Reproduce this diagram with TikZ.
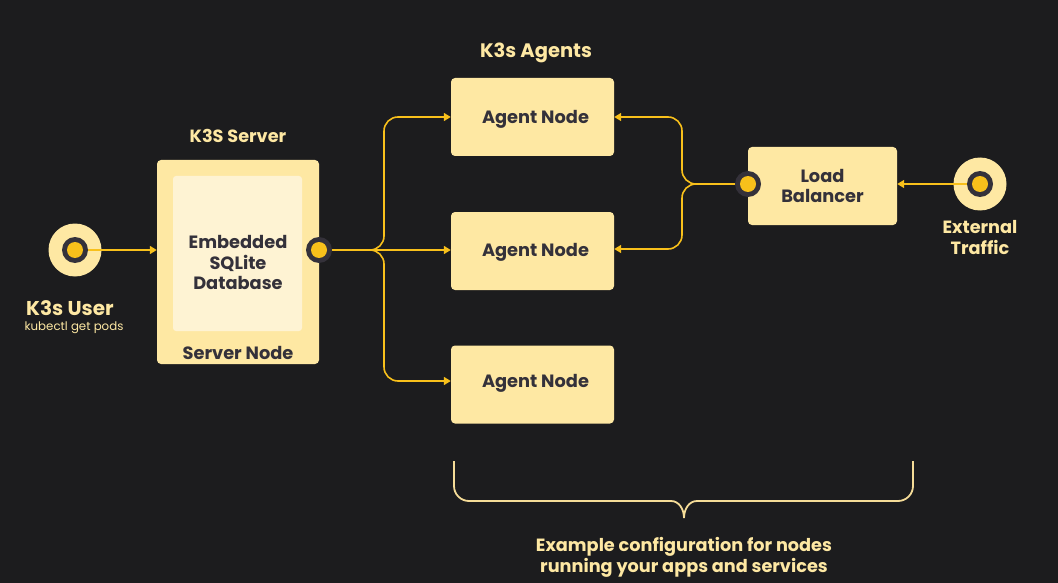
\documentclass[tikz,border=0pt]{standalone}
\usepackage{fontspec}
\setmainfont{Poppins}
\usetikzlibrary{arrows.meta,calc}
\definecolor{bg}{HTML}{1C1C1E}
\definecolor{ly}{HTML}{FEE8A3}
\definecolor{lyy}{HTML}{FEF3D3}
\definecolor{yl}{HTML}{F8C01B}
\definecolor{dk}{HTML}{34313A}
\definecolor{brace}{HTML}{F5DC98}
\tikzset{
  box/.style={rectangle, rounded corners=4pt, fill=ly, text=dk, inner sep=0pt, align=center,
    font=\fontsize{17.8}{20.5}\selectfont\bfseries},
  agent/.style={box, minimum width=163pt, minimum height=78pt},
  title/.style={text=ly, font=\fontsize{17.7}{20.5}\selectfont\bfseries, align=center, inner sep=0pt},
  conn/.style={draw=yl, line width=1.6pt, rounded corners=14pt, -{Triangle[length=7pt,width=8pt]}},
  port/.style={circle, fill=dk, minimum size=26pt, inner sep=0pt, path picture={\fill[yl] (path picture bounding box.center) circle (8pt);}},
  ext/.style={circle, fill=ly, minimum size=53pt, inner sep=0pt},
}
\begin{document}
\begin{tikzpicture}[x=1pt,y=-1pt]
\fill[bg] (0,0) rectangle (1058,583);
\useasboundingbox (0,0) rectangle (1058,583);

% server
\node[box, minimum width=162pt, minimum height=204pt] (server) at (238,262) {};
\node[rectangle, rounded corners=3pt, fill=lyy, minimum width=129pt, minimum height=155pt, inner sep=0pt] (db) at (237.5,253.5) {};
\node[text=dk, font=\fontsize{17.8}{20.5}\selectfont\bfseries, align=center] (dbt) at (238,262.5) {Embedded\\SQLite\\Database};
\node[text=dk, font=\fontsize{17.8}{20}\selectfont\bfseries] (sn) at (238,352.5) {Server Node};
\node[title] (st) at (238,136) {K3S Server};

% agents
\node[agent] (a1) at (532.5,117) {};
\node[agent] (a2) at (532.5,251) {};
\node[agent] (a3) at (532.5,384.5) {};
\node[text=dk, font=\fontsize{17.8}{20}\selectfont\bfseries] (a1t) at (535.5,119) {Agent Node};
\node[text=dk, font=\fontsize{17.8}{20}\selectfont\bfseries] (a2t) at (535.5,252.5) {Agent Node};
\node[text=dk, font=\fontsize{17.8}{20}\selectfont\bfseries] (a3t) at (535.5,383.5) {Agent Node};
\node[title, font=\fontsize{19.5}{20}\selectfont\bfseries] (at) at (536,52.5) {K3s Agents};

% load balancer
\node[box, minimum width=149pt, minimum height=78pt] (lb) at (822.5,186) {Load\\Balancer};

% user
\node[ext] (user) at (75,250) {};
\node[title, font=\fontsize{20}{20}\selectfont\bfseries] (ut) at (70,308) {K3s User};
\node[text=ly, font=\fontsize{11.8}{12}\selectfont, inner sep=0pt] (us) at (74,328) {kubectl get pods};

% external
\node[ext] (extn) at (980,184) {};
\node[title] (et) at (980,237.5) {External\\Traffic};

% ports
\coordinate (sp) at (319,250);
\coordinate (lp) at (748,184);

% connectors
\draw[conn] (user.center) -- (server.west |- user.center);
\draw[conn] (sp) -- ++(65,0) |- (a1.west);
\draw[conn] (sp) -- (a2.west |- sp);
\draw[conn] (sp) -- ++(65,0) |- (a3.west |- 0,381);
\draw[conn] (lp) -- ++(-66,0) |- (a1.east);
\draw[conn] (lp) -- ++(-66,0) |- (a2.east |- 0,249);
\draw[conn] (extn.center) -- (lb.east |- extn.center);

% port icons
\node[port] (sport) at (sp) {};
\node[port] (lport) at (lp) {};
\node[port] (uport) at (user.center) {};
\node[port] (eport) at (extn.center) {};

% brace
\draw[brace, line width=1.8pt, rounded corners=15pt] (454,461) -- (454,501) -- (672,501);
\draw[brace, line width=1.8pt, rounded corners=15pt] (913,461) -- (913,501) -- (696,501);
\draw[brace, line width=1.8pt] (671,501) to[out=0,in=90] (684,518) coordinate (tip) to[out=90,in=180] (697,501);

\node[title] (bt) at (684,557.5) {Example configuration for nodes\\running your apps and services};
\end{tikzpicture}
\end{document}
